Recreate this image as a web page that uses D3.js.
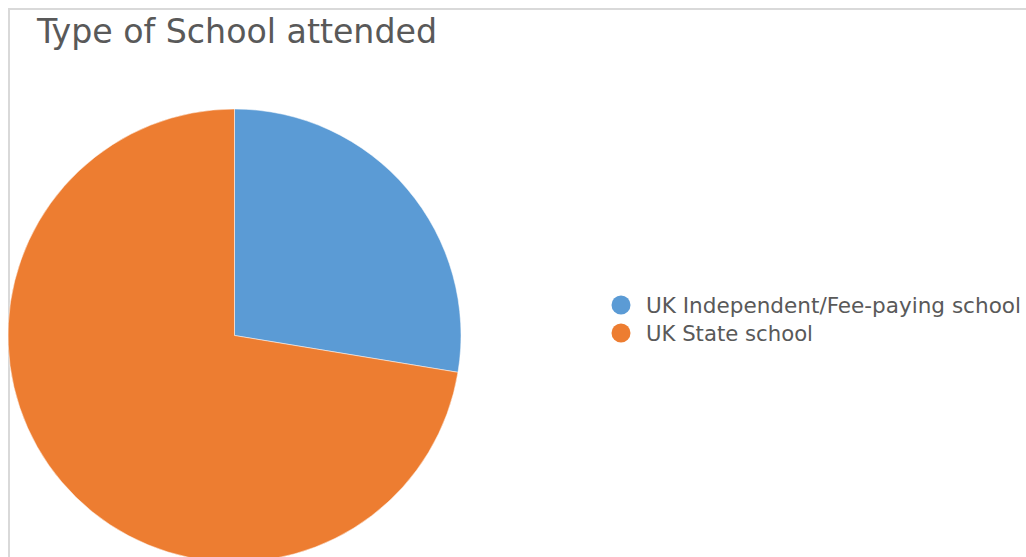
<!DOCTYPE html>
<html><head><meta charset="utf-8">
<script src="https://cdn.jsdelivr.net/npm/d3@7/dist/d3.min.js"></script>
<style>body{margin:0;background:#fff;overflow:hidden}svg{display:block}</style>
</head><body>
<script>
const categories = ["UK Independent/Fee-paying school", "UK State school"];
const values = [27.6, 72.4];
const colors = ["#5B9BD5", "#ED7D31"];
const title = "Type of School attended";

const W = 1026, H = 557;
const svg = d3.select("body").append("svg").attr("width", W).attr("height", H);

// chart border
svg.append("rect").attr("x", 9).attr("y", 9).attr("width", W + 10).attr("height", H + 10)
  .attr("fill", "#fff").attr("stroke", "#d9d9d9").attr("stroke-width", 2);

const cx = 234.5, cy = 335.5, r = 226.5;
const pie = d3.pie().sort(null).value(d => d)(values);
const arc = d3.arc().innerRadius(0).outerRadius(r);
const color = d3.scaleOrdinal().domain(d3.range(categories.length)).range(colors);

svg.append("g").attr("transform", `translate(${cx},${cy})`)
  .selectAll("path").data(pie).join("path")
  .attr("d", arc).attr("fill", (d, i) => color(i))
  .attr("stroke", "#fff").attr("stroke-width", 0.5);

svg.append("text").attr("x", 37).attr("y", 43).text(title)
  .attr("font-family", "DejaVu Sans Condensed").attr("font-size", 34).attr("fill", "#595959")
  .attr("textLength", 400).attr("lengthAdjust", "spacingAndGlyphs");

const lg = svg.append("g");
const yScale = d3.scalePoint().domain(categories).range([305, 333]);
categories.forEach((c, i) => {
  lg.append("circle").attr("cx", 621).attr("cy", yScale(c)).attr("r", 9.5).attr("fill", color(i));
  lg.append("text").attr("x", 646).attr("y", yScale(c) + 8).text(c)
    .attr("font-family", "DejaVu Sans Condensed").attr("font-size", 21).attr("fill", "#595959")
    .attr("textLength", i === 0 ? 375 : 167).attr("lengthAdjust", "spacingAndGlyphs");
});
</script>
</body></html>
